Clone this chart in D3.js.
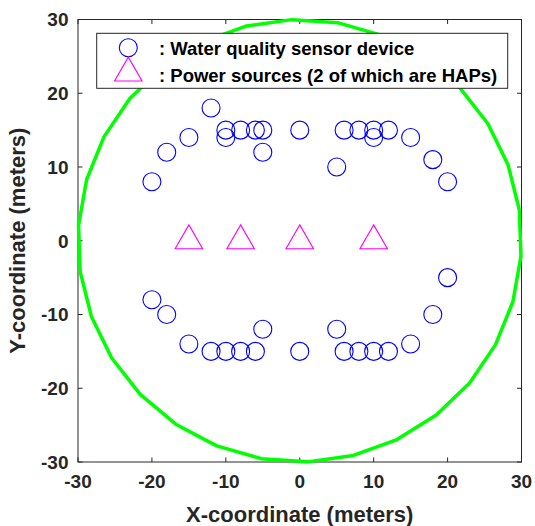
<!DOCTYPE html>
<html>
<head>
<meta charset="utf-8">
<script src="https://cdn.jsdelivr.net/npm/d3@7"></script>
<style>
  body { margin: 0; background: #fff; }
  text { font-family: "Liberation Sans", Arial, sans-serif; font-weight: bold; fill: #262626; }
</style>
</head>
<body>
<svg id="chart"></svg>
<script>
// sensor devices (meters)
var sensorX = [-20, -18, -15, -12, -10, -10, -8, -6, -5, -5, 0, 5, 6, 8, 10, 10, 12, 15, 18, 20,
               -20, -18, -15, -12, -10, -8, -6, -5, 0, 5, 6, 8, 10, 12, 15, 18, 20];
var sensorY = [8, 12, 14, 18, 15, 14, 15, 15, 15, 12, 15, 10, 15, 15, 15, 14, 15, 14, 11, 8,
               -8, -10, -14, -15, -15, -15, -15, -12, -15, -12, -15, -15, -15, -15, -14, -10, -5];
// power sources
var powerX = [-15, -8, 0, 10];
var powerY = [0, 0, 0, 0];
var ticks = [-30, -20, -10, 0, 10, 20, 30];
var areaRadius = 30;
var legendLabels = [': Water quality sensor device', ': Power sources (2 of which are HAPs)'];

var W = 535, H = 526;
var L = 78, R = 521.5, T = 19.5, B = 462;
var axisColor = '#262626';

var svg = d3.select('#chart').attr('width', W).attr('height', H);

var x = d3.scaleLinear().domain([-30, 30]).range([L, R]);
var y = d3.scaleLinear().domain([-30, 30]).range([B, T]);

// box + inward ticks on all sides
var axes = svg.append('g').attr('class', 'axes');
axes.append('rect')
    .attr('x', L).attr('y', T)
    .attr('width', R - L).attr('height', B - T)
    .attr('fill', 'none').attr('stroke', axisColor).attr('stroke-width', 1);

var tl = 4.5;
ticks.forEach(function(t) {
  axes.append('line').attr('x1', x(t)).attr('x2', x(t)).attr('y1', B).attr('y2', B - tl).attr('stroke', axisColor);
  axes.append('line').attr('x1', x(t)).attr('x2', x(t)).attr('y1', T).attr('y2', T + tl).attr('stroke', axisColor);
  axes.append('line').attr('y1', y(t)).attr('y2', y(t)).attr('x1', L).attr('x2', L + tl).attr('stroke', axisColor);
  axes.append('line').attr('y1', y(t)).attr('y2', y(t)).attr('x1', R).attr('x2', R - tl).attr('stroke', axisColor);
});

axes.selectAll('text.xt')
    .data(ticks).enter().append('text')
    .attr('class', 'xt')
    .attr('x', function(d) { return x(d); })
    .attr('y', 488)
    .attr('text-anchor', 'middle')
    .style('font-size', '19px')
    .text(function(d) { return d; });

axes.selectAll('text.yt')
    .data(ticks).enter().append('text')
    .attr('class', 'yt')
    .attr('x', 68.5)
    .attr('y', function(d) { return y(d) + 6.8; })
    .attr('text-anchor', 'end')
    .style('font-size', '19px')
    .text(function(d) { return d; });

svg.append('text')
    .attr('x', (L + R) / 2).attr('y', 521.5)
    .attr('text-anchor', 'middle')
    .style('font-size', '22px')
    .text('X-coordinate (meters)');

svg.append('text')
    .attr('transform', 'translate(25,' + ((T + B) / 2) + ') rotate(-90)')
    .attr('text-anchor', 'middle')
    .style('font-size', '22px')
    .text('Y-coordinate (meters)');

// deployment area boundary (polygonal circle, as plotted)
var angles = d3.range(0, 31).map(function(k) { return (8 + 12 * k) * Math.PI / 180; });
var ring = d3.line()
    .x(function(a) { return x(areaRadius * Math.cos(a)); })
    .y(function(a) { return y(areaRadius * Math.sin(a)); });
svg.append('path')
    .attr('d', ring(angles))
    .attr('fill', 'none')
    .attr('stroke', '#00ff00')
    .attr('stroke-width', 3.5)
    .attr('stroke-linejoin', 'round');

// markers
var mr = 9;
svg.append('g').selectAll('circle')
    .data(sensorX).enter().append('circle')
    .attr('cx', function(d) { return x(d); })
    .attr('cy', function(d, i) { return y(sensorY[i]); })
    .attr('r', mr)
    .attr('fill', 'none')
    .attr('stroke', '#0000ff')
    .attr('stroke-width', 1.1);

var triSide = 27.5;
var triH = triSide * Math.sqrt(3) / 2;
function triPath(cx, cy) {
  // centroid at (cx, cy)
  return 'M' + cx + ',' + (cy - triH * 2 / 3) +
         'L' + (cx + triSide / 2) + ',' + (cy + triH / 3) +
         'L' + (cx - triSide / 2) + ',' + (cy + triH / 3) + 'Z';
}
svg.append('g').selectAll('path')
    .data(powerX).enter().append('path')
    .attr('d', function(d, i) { return triPath(x(d), y(powerY[i])); })
    .attr('fill', 'none')
    .attr('stroke', '#ff00ff')
    .attr('stroke-width', 1.1);

// legend
var leg = svg.append('g').attr('class', 'legend');
leg.append('rect')
    .attr('x', 96.7).attr('y', 33.3)
    .attr('width', 411).attr('height', 55)
    .attr('fill', '#fff').attr('stroke', axisColor).attr('stroke-width', 1);
leg.append('circle')
    .attr('cx', 128.3).attr('cy', 47.7).attr('r', mr)
    .attr('fill', 'none').attr('stroke', '#0000ff').attr('stroke-width', 1.1);
leg.append('path')
    .attr('d', triPath(128.3, 73))
    .attr('fill', 'none').attr('stroke', '#ff00ff').attr('stroke-width', 1.1);
leg.selectAll('text')
    .data(legendLabels).enter().append('text')
    .attr('x', 159)
    .attr('y', function(d, i) { return i === 0 ? 55 : 81.5; })
    .style('font-size', '18.5px')
    .style('fill', '#000')
    .text(function(d) { return d; });
</script>
</body>
</html>
